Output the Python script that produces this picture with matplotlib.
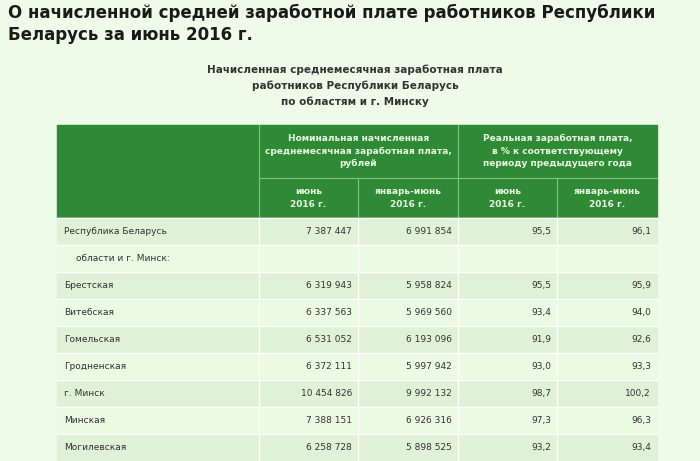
import matplotlib.pyplot as plt
from matplotlib.patches import Rectangle

regions = ["Республика Беларусь", "области и г. Минск:", "Брестская", "Витебская", "Гомельская",
           "Гродненская", "г. Минск", "Минская", "Могилевская"]
nom_june = ["7 387 447", "", "6 319 943", "6 337 563", "6 531 052", "6 372 111", "10 454 826", "7 388 151", "6 258 728"]
nom_ytd = ["6 991 854", "", "5 958 824", "5 969 560", "6 193 096", "5 997 942", "9 992 132", "6 926 316", "5 898 525"]
real_june = ["95,5", "", "95,5", "93,4", "91,9", "93,0", "98,7", "97,3", "93,2"]
real_ytd = ["96,1", "", "95,9", "94,0", "92,6", "93,3", "100,2", "96,3", "93,4"]

W, H = 700, 461
fig = plt.figure(figsize=(7, 4.61), dpi=100)
fig.patch.set_facecolor('#eefbe8')
ax = fig.add_axes([0, 0, 1, 1])
ax.set_xlim(0, W)
ax.set_ylim(H, 0)
ax.axis('off')

green = '#2f8a36'
cols = [57, 259, 358, 458, 557, 657]

ax.text(8, 13, "О начисленной средней заработной плате работников Республики", fontsize=12,
        fontweight='bold', color='#1a1a1a', va='center')
ax.text(8, 35, "Беларусь за июнь 2016 г.", fontsize=12, fontweight='bold', color='#1a1a1a', va='center')
for y, s in zip([70, 86, 102], ["Начисленная среднемесячная заработная плата",
                                "работников Республики Беларусь", "по областям и г. Минску"]):
    ax.text(355, y, s, fontsize=7.5, fontweight='bold', color='#333333', ha='center', va='center')

# header
ax.add_patch(Rectangle((cols[0], 125), cols[-1] - cols[0], 93, color=green))
hdr_line = '#7fc484'
ax.plot([cols[1], cols[1]], [125, 218], color=hdr_line, lw=0.8)
ax.plot([cols[3], cols[3]], [125, 218], color=hdr_line, lw=0.8)
ax.plot([cols[1], cols[5]], [178, 178], color=hdr_line, lw=0.8)
ax.plot([cols[2], cols[2]], [178, 218], color=hdr_line, lw=0.8)
ax.plot([cols[4], cols[4]], [178, 218], color=hdr_line, lw=0.8)
hkw = dict(fontsize=6.5, fontweight='bold', color='#e8f5e0', ha='center', va='center', linespacing=1.5)
ax.text((cols[1] + cols[3]) / 2, 151, "Номинальная начисленная\nсреднемесячная заработная плата,\nрублей", **hkw)
ax.text((cols[3] + cols[5]) / 2, 151, "Реальная заработная плата,\nв % к соответствующему\nпериоду предыдущего года", **hkw)
for i, s in enumerate(["июнь\n2016 г.", "январь-июнь\n2016 г."] * 2):
    ax.text((cols[i + 1] + cols[i + 2]) / 2, 198, s, **hkw)

# body rows
rh = 27.0
for r, name in enumerate(regions):
    y0 = 218 + r * rh
    fc = '#dff1d6' if r % 2 == 0 else '#eafae3'
    ax.add_patch(Rectangle((cols[0], y0), cols[-1] - cols[0], rh, color=fc))
    for c in cols[1:-1]:
        ax.plot([c, c], [y0, y0 + rh], color='white', lw=1)
    ax.plot([cols[0], cols[-1]], [y0, y0], color='white', lw=1)
    yc = y0 + rh / 2
    indent = 12 if r == 1 else 0
    ax.text(cols[0] + 7 + indent, yc, name, fontsize=6.5, color='#333333', va='center')
    for j, vals in enumerate([nom_june, nom_ytd, real_june, real_ytd]):
        ax.text(cols[j + 2] - 6, yc, vals[r], fontsize=6.5, color='#333333', va='center', ha='right')

fig.savefig('out.png', dpi=100, facecolor=fig.get_facecolor())
